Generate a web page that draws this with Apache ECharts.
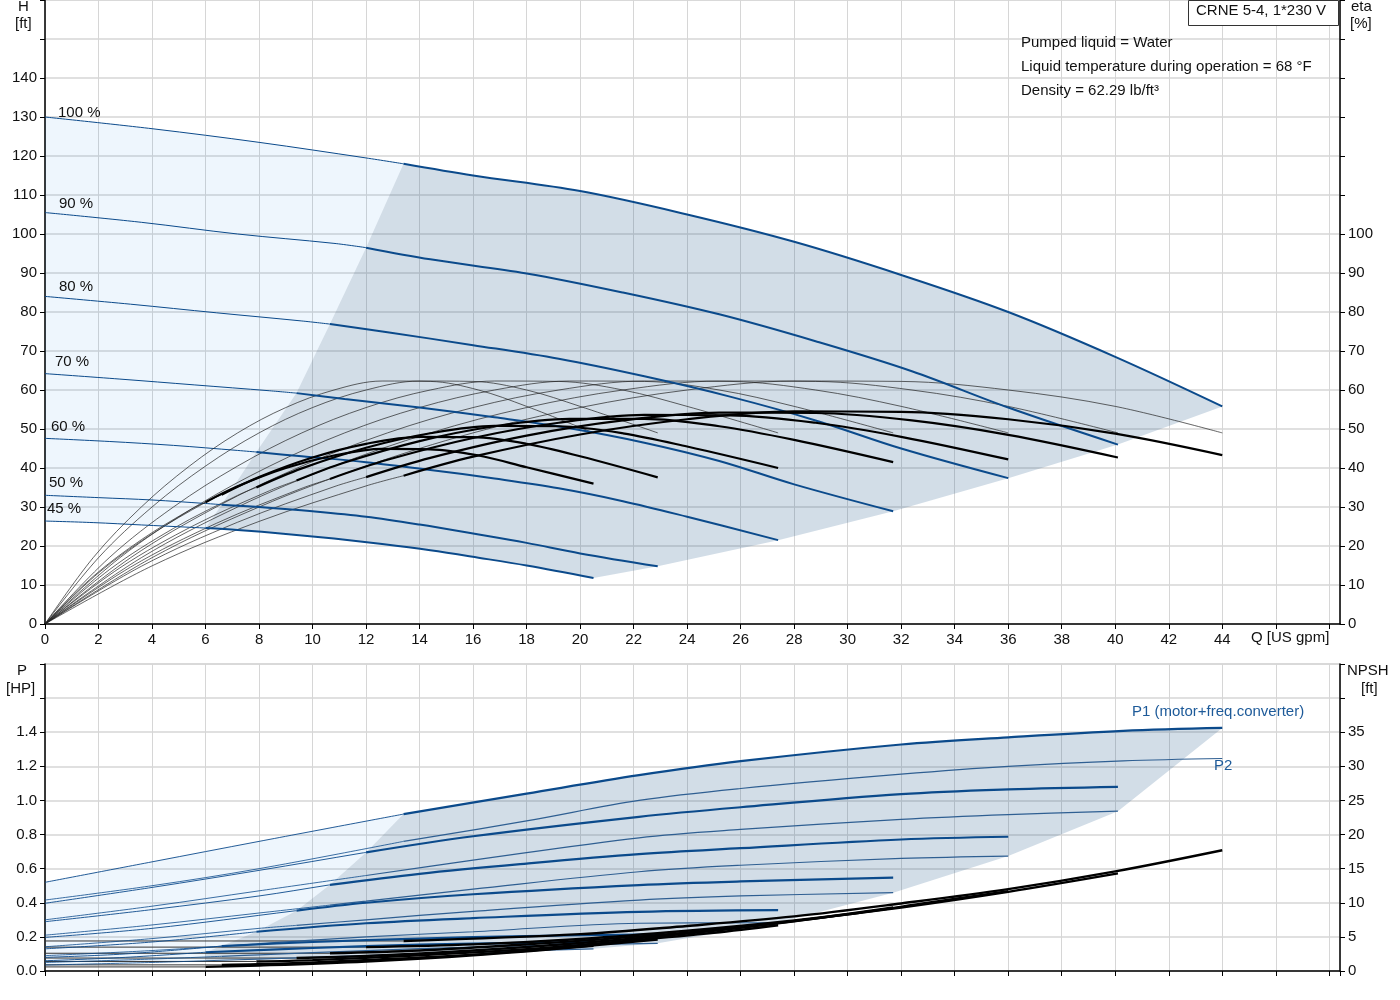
<!DOCTYPE html>
<html><head><meta charset="utf-8">
<script src="https://cdn.jsdelivr.net/npm/echarts@6/dist/echarts.min.js"></script>
<style>html,body{margin:0;padding:0;background:#fff}#c{width:1400px;height:1000px}</style>
</head><body><div id="c"></div>
<script>
// ---------- DATA ----------
const speedLabels = ['100 %','90 %','80 %','70 %','60 %','50 %','45 %'];
const minFlow = [13.4, 12, 10.65, 9.4, 7.9, 6.6, 6];
const xTickMax = 44;

// Head curves [Q, H]
const h100 = [[0,130],[4,127],[8,123.5],[12,119.5],[13.4,118],[16,115],[20,111],[24,105],[28,98],[32,89.5],[36,80],[40,68.5],[44,55.8]];
const h90  = [[0,105.5],[3.6,103],[7.2,100],[10.8,97.6],[12,96.5],[14.4,93.5],[18,89.9],[21.6,85],[25.2,79.4],[28.8,72.5],[32.4,64.8],[36,55.5],[40.1,46]];
const h80  = [[0,84],[3.2,82],[6.4,79.8],[9.6,77.7],[10.65,76.9],[12.8,74.8],[16,71.5],[19.2,68],[22.4,63.5],[25.6,58.3],[28.8,52.2],[32,45],[36,37.4]];
const h70  = [[0,64.2],[2.8,62.8],[5.6,61.3],[8.4,59.8],[9.4,59.2],[11.2,57.7],[14,55.5],[16.8,53],[19.6,50.2],[22.4,46.5],[25.2,41.8],[28,35.8],[31.7,28.9]];
const h60  = [[0,47.6],[2.4,46.8],[4.8,45.8],[7.2,44.5],[7.9,44.1],[9.6,43],[12,41.5],[14.4,39.5],[16.8,37.3],[19.2,34.8],[21.6,31.5],[24,27.5],[27.4,21.5]];
const h50  = [[0,33],[2,32.4],[4,31.8],[6,30.9],[6.6,30.6],[8,30],[10,28.9],[12,27.5],[14,25.5],[16,23.2],[18,20.8],[20,18.1],[22.9,14.8]];
const h45  = [[0,26.4],[1.8,26],[3.6,25.4],[5.4,24.8],[6,24.6],[7.2,24.1],[9,23.1],[10.8,21.9],[12.6,20.5],[14.4,18.9],[16.2,17],[18,15],[20.5,11.8]];

// Efficiency curves: flows per speed, pump eta, total eta
const qE100 = [0,4,8,12,16,20,24,28,32,36,40,44];
const qE90  = [0,3.6,7.2,10.8,14.4,18,21.6,25.2,28.8,32.4,36,40.1];
const qE80  = [0,3.2,6.4,9.6,12.8,16,19.2,22.4,25.6,28.8,32,36];
const qE70  = [0,2.8,5.6,8.4,11.2,14,16.8,19.6,22.4,25.2,28,31.7];
const qE60  = [0,2.4,4.8,7.2,9.6,12,14.4,16.8,19.2,21.6,24,27.4];
const qE50  = [0,2,4,6,8,10,12,14,16,18,20,22.9];
const qE45  = [0,1.8,3.6,5.4,7.2,9,10.8,12.6,14.4,16.2,18,20.5];
const etaPump = [0,17,30,40.5,49,55.5,60,62.3,62.2,60,55.8,49];
const etaT100 = [0,14.9,26.3,35.4,42.9,48.6,52.5,54.5,54.4,52.5,48.8,43.3];
const etaT90  = [0,14.8,26.1,35.2,42.6,48.3,52.2,54.2,54.1,52.2,48.5,42.7];
const etaT80  = [0,14.6,25.8,34.8,42.1,47.7,51.6,53.6,53.5,51.6,48,42.2];
const etaT70  = [0,14.4,25.4,34.2,41.4,46.9,50.7,52.6,52.6,50.7,47.2,41.5];
const etaT60  = [0,13.9,24.5,33,39.9,45.2,48.9,50.8,50.7,48.9,45.5,40];
const etaT50  = [0,13.1,23.1,31.2,37.7,42.7,46.2,48,47.9,46.2,43,37.6];
const etaT45  = [0,12.2,21.6,29.2,35.3,40,43.2,44.9,44.8,43.2,40.2,36];

// Power curves [Q, P]
const p1_100 = [[0,.52],[4,.64],[8,.76],[13.4,.92],[18,1.04],[22.2,1.148],[26,1.23],[32,1.328],[36,1.37],[40.3,1.408],[44,1.425]];
const p1_90  = [[0,.397],[4,.49],[8,.59],[11.9,.693],[16,.79],[22.2,.904],[26,.96],[32,1.037],[36,1.065],[40.1,1.08]];
const p1_80  = [[0,.289],[4,.36],[8,.44],[10.6,.504],[14,.57],[18,.63],[22.2,.685],[26,.72],[32,.771],[36,.787]];
const p1_70  = [[0,.197],[4,.25],[9.35,.353],[12,.4],[16,.45],[22.2,.504],[26,.525],[31.7,.547]];
const p1_60  = [[0,.13],[4,.17],[7.9,.23],[12,.28],[16,.31],[22.2,.347],[27.4,.357]];
const p1_50  = [[0,.08],[3,.1],[6.6,.146],[10,.17],[14,.19],[18,.205],[22.9,.215]];
const p1_45  = [[0,.06],[3,.08],[6,.11],[10,.135],[14,.155],[18,.165],[20.5,.17]];
const p2_100 = [[0,.416],[4,.5],[8,.6],[13.4,.76],[18,.88],[22.2,1.0],[26,1.07],[32,1.154],[36,1.2],[40.3,1.232],[44,1.246]];
const p2_90  = [[0,.30],[4,.38],[8,.47],[12,.56],[16,.65],[22.2,.781],[26,.83],[32,.889],[36,.917],[40.1,.937]];
const p2_80  = [[0,.21],[4,.27],[8,.34],[12,.41],[16,.48],[22.2,.582],[26,.62],[32,.66],[36,.674]];
const p2_70  = [[0,.142],[4,.19],[8,.25],[12,.3],[16,.35],[22.2,.416],[26,.44],[31.7,.459]];
const p2_60  = [[0,.09],[4,.12],[8,.16],[12,.2],[16,.23],[22.2,.28],[27.4,.283]];
const p2_50  = [[0,.05],[4,.07],[8,.095],[12,.12],[16,.14],[20,.155],[22.9,.162]];
const p2_45  = [[0,.035],[4,.05],[8,.07],[12,.09],[16,.11],[20.5,.13]];

// NPSH curves [Q, ft]
const n100 = [[0,4.4],[13.4,4.4],[20,5.4],[24,6.6],[28,8],[32,9.9],[36,12],[40,14.6],[44,17.7]];
const n90  = [[0,3.5],[12,3.5],[16,3.9],[20,4.7],[24,5.9],[28,7.4],[32,9.3],[36,11.6],[40.1,14.3]];
const n80  = [[0,2.6],[10.65,2.6],[14,3],[18,3.9],[22,5],[26,6.4],[30,8.3],[33,10],[36,11.7]];
const n70  = [[0,1.9],[9.4,1.9],[12,2.2],[16,3],[20,4.1],[24,5.5],[28,7.3],[31.7,9.3]];
const n60  = [[0,1.4],[7.9,1.4],[10,1.6],[14,2.3],[18,3.2],[22,4.5],[25,5.6],[27.4,6.7]];
const n50  = [[0,0.9],[6.6,0.9],[9,1.1],[12,1.6],[16,2.4],[20,3.6],[22.9,4.6]];
const n45  = [[0,0.6],[6,0.6],[8,0.8],[12,1.4],[16,2.3],[20.5,3.7]];

// ---------- BUILD ----------
const H = [h100,h90,h80,h70,h60,h50,h45];
const QE = [qE100,qE90,qE80,qE70,qE60,qE50,qE45];
const ET = [etaT100,etaT90,etaT80,etaT70,etaT60,etaT50,etaT45];
const P1 = [p1_100,p1_90,p1_80,p1_70,p1_60,p1_50,p1_45];
const P2 = [p2_100,p2_90,p2_80,p2_70,p2_60,p2_50,p2_45];
const NP = [n100,n90,n80,n70,n60,n50,n45];
const BLUE = '#0b4a8b';

function valAt(arr, q){
  for (let i=1;i<arr.length;i++){
    if (arr[i][0] >= q){ const a=arr[i-1], b=arr[i]; const t=(q-a[0])/(b[0]-a[0]); return a[1]+t*(b[1]-a[1]); }
  }
  return arr[arr.length-1][1];
}
function tail(arr, q){ const r=[[q,valAt(arr,q)]]; arr.forEach(p=>{ if(p[0]>q+1e-9) r.push(p); }); return r; }
function head(arr, q){ const r=[]; arr.forEach(p=>{ if(p[0]<q-1e-9) r.push(p); }); r.push([q,valAt(arr,q)]); return r; }
function zip(qs, vs){ return qs.map((q,i)=>[q,vs[i]]); }

function line(data, xi, yi, w, color, z, smooth){
  return {type:'line', xAxisIndex:xi, yAxisIndex:yi, data, symbol:'none', smooth: smooth===undefined?0.35:smooth,
    lineStyle:{width:w,color}, silent:true, z:z||3, animation:false};
}
function poly(pts, xi, yi, fill){
  return {type:'custom', xAxisIndex:xi, yAxisIndex:yi, data:[0], silent:true, z:1, animation:false,
    renderItem:(p,api)=>({type:'polygon', shape:{points:pts.map(pt=>api.coord(pt))}, style:{fill}})};
}

const series = [];
// top fills
{
  const dark = [];
  tail(h100,minFlow[0]).forEach(p=>dark.push(p));
  for (let i=1;i<7;i++) dark.push(H[i][H[i].length-1]);
  tail(h45,minFlow[6]).slice(0,-1).reverse().forEach(p=>dark.push(p));
  for (let i=5;i>=1;i--) dark.push([minFlow[i], valAt(H[i],minFlow[i])]);
  series.push(poly(dark,0,0,'rgba(30,85,135,0.2)'));
  const light = [];
  head(h100,minFlow[0]).forEach(p=>light.push(p));
  for (let i=1;i<7;i++) light.push([minFlow[i], valAt(H[i],minFlow[i])]);
  head(h45,minFlow[6]).slice(0,-1).reverse().forEach(p=>light.push(p));
  series.push(poly(light,0,0,'rgba(0,120,230,0.067)'));
}
// bottom fills
{
  const dark = [];
  tail(p1_100,minFlow[0]).forEach(p=>dark.push(p));
  for (let i=1;i<7;i++) dark.push(P2[i][P2[i].length-1]);
  tail(p2_45,minFlow[6]).slice(0,-1).reverse().forEach(p=>dark.push(p));
  for (let i=6;i>=1;i--) dark.push([minFlow[i], valAt(P1[i],minFlow[i])]);
  series.push(poly(dark,1,2,'rgba(30,85,135,0.2)'));
  const light = [];
  head(p1_100,minFlow[0]).forEach(p=>light.push(p));
  for (let i=1;i<7;i++) light.push([minFlow[i], valAt(P1[i],minFlow[i])]);
  head(p2_45,minFlow[6]).reverse().forEach(p=>light.push(p));
  series.push(poly(light,1,2,'rgba(0,120,230,0.067)'));
}
for (let i=0;i<7;i++){
  const m = minFlow[i];
  // head
  series.push(line(head(H[i],m),0,0,1,BLUE,3));
  series.push(line(tail(H[i],m),0,0,2,BLUE,4));
  // pump eta (thin)
  series.push(line(zip(QE[i],etaPump),0,1,0.7,'#222',3));
  // total eta
  const et = zip(QE[i],ET[i]);
  series.push(line(head(et,m),0,1,0.7,'#222',3));
  series.push(line(tail(et,m),0,1,2.2,'#000',5));
  // P1
  series.push(line(head(P1[i],m),1,2,0.9,BLUE,3));
  series.push(line(tail(P1[i],m),1,2,2.2,BLUE,4));
  // P2
  series.push(line(head(P2[i],m),1,2,0.8,BLUE,3));
  series.push(line(tail(P2[i],m),1,2,1.2,'#2f5f92',4));
  // NPSH
  series.push(line(head(NP[i],m),1,3,1,'#333',3,0));
  series.push(line(tail(NP[i],m),1,3,2.4,'#000',5));
}

const font = 'Liberation Sans, Arial, sans-serif';
const lblStyle = {color:'#111', fontSize:15, fontFamily:font};
function xAx(gi, showLabels){
  return {type:'value', gridIndex:gi, min:0, max:48.4, interval:2,
    axisLine:{show:true, onZero:false, lineStyle:{color:'#000',width:1.5}},
    axisTick:{show:true, length:5, lineStyle:{color:'#000'}},
    axisLabel:Object.assign({show:showLabels, margin:8, showMaxLabel:false, formatter:v=> (v<=xTickMax)? String(v):''}, lblStyle),
    splitLine:{show:true, lineStyle:{color:'#d6d6d6', width:1}}};
}
function yAx(gi, pos, max, interval, labelMax, fmt, showSplit){
  return {type:'value', gridIndex:gi, position:pos, min:0, max, interval,
    axisLine:{show:true, lineStyle:{color:'#000',width:1.5}},
    axisTick:{show:true, length:5, lineStyle:{color:'#000'}},
    axisLabel:Object.assign({margin:8, formatter:v=> v<=labelMax+1e-9 ? fmt(v) : ''}, lblStyle),
    splitLine:{show:showSplit, lineStyle:{color:'#d6d6d6', width:1.5}}};
}

const txt = (x,y,t,extra)=>({type:'text', left:x, top:y, style:Object.assign({text:t, fill:'#111', font:'15px '+font}, extra||{}), z:100});
const graphic = [
  txt(18,-1,'H'), txt(15,16,'[ft]'),
  txt(1351,-1,'eta'), txt(1350,16,'[%]'),
  txt(17,663,'P'), txt(6,681,'[HP]'),
  txt(1347,663,'NPSH'), txt(1361,681,'[ft]'),
  txt(1251,630,'Q [US gpm]'),
  {type:'rect', left:1188, top:0, shape:{width:150,height:25}, style:{fill:'#fff', stroke:'#333', lineWidth:1}, z:99},
  txt(1196,3,'CRNE 5-4, 1*230 V'),
  txt(1021,35,'Pumped liquid = Water'),
  txt(1021,59,'Liquid temperature during operation = 68 °F'),
  txt(1021,83,'Density = 62.29 lb/ft³'),
  txt(1132,704,'P1 (motor+freq.converter)',{fill:'#1d5a99'}),
  txt(1214,758,'P2',{fill:'#1d5a99'}),
  txt(58,105,speedLabels[0]), txt(59,196,speedLabels[1]), txt(59,279,speedLabels[2]),
  txt(55,354,speedLabels[3]), txt(51,419,speedLabels[4]), txt(49,475,speedLabels[5]), txt(47,501,speedLabels[6])
];

const chart = echarts.init(document.getElementById('c'), null, {renderer:'canvas'});
chart.setOption({
  animation:false,
  backgroundColor:'#fff',
  grid:[
    {left:45, width:1295, top:0, height:624, show:true, borderColor:'#c8c8c8', borderWidth:1},
    {left:45, width:1295, top:664, height:307, show:true, borderColor:'#c8c8c8', borderWidth:1}
  ],
  xAxis:[xAx(0,true), xAx(1,false)],
  yAxis:[
    yAx(0,'left',160,10,140,v=>String(v),true),
    yAx(0,'right',160,10,100,v=>String(v),false),
    yAx(1,'left',1.8,0.2,1.4,v=>v.toFixed(1),true),
    yAx(1,'right',45,5,35,v=>String(v),false)
  ],
  graphic,
  series
});
</script></body></html>
